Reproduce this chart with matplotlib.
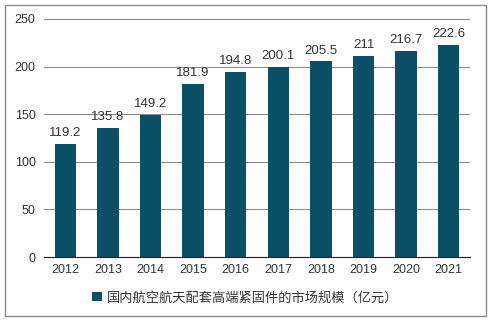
import matplotlib
matplotlib.use('Agg')
import matplotlib.pyplot as plt
from matplotlib.patches import Rectangle

plt.rcParams['font.family'] = ['Liberation Sans', 'Noto Sans CJK SC', 'DejaVu Sans']

years = ['2012', '2013', '2014', '2015', '2016', '2017', '2018', '2019', '2020', '2021']
values = [119.2, 135.8, 149.2, 181.9, 194.8, 200.1, 205.5, 211, 216.7, 222.6]
labels = ['119.2', '135.8', '149.2', '181.9', '194.8', '200.1', '205.5', '211', '216.7', '222.6']
series_name = '国内航空航天配套高端紧固件的市场规模（亿元）'
bar_color = '#0c5067'

fig = plt.figure(figsize=(4.91, 3.23), dpi=100)
ax = fig.add_axes([44 / 491, 1 - 257 / 323, 426 / 491, 238 / 323])

x = list(range(len(years)))
ax.bar(x, values, width=0.5, color=bar_color, zorder=3, label=series_name)
for xi, v, t in zip(x, values, labels):
    ax.text(xi, v + 5, t, ha='center', va='bottom', fontsize=9.5, color='#333333', zorder=4)

ax.set_xlim(-0.5, 9.5)
ax.set_ylim(0, 250)
ax.set_yticks(range(0, 251, 50))
ax.set_xticks(x)
ax.set_xticklabels(years)
ax.yaxis.grid(True, color='#8c8c8c', linewidth=0.8, zorder=0)
for s in ['top', 'right', 'left']:
    ax.spines[s].set_visible(False)
ax.spines['bottom'].set_color('#222222')
ax.tick_params(axis='y', length=0, labelsize=9, pad=6, colors='#333333')
ax.tick_params(axis='x', length=0, labelsize=9, pad=5, colors='#333333')

ax.legend(loc='center', bbox_to_anchor=(0.5, 1 - 298 / 323), bbox_transform=fig.transFigure,
          frameon=False, fontsize=9.5, handlelength=0.7, handleheight=0.7, handletextpad=0.4,
          labelcolor='#333333')

fig.patches.append(Rectangle((5 / 491, 1 - 316 / 323), 481 / 491, 311 / 323,
                             transform=fig.transFigure, fill=False,
                             edgecolor='#8c8c8c', linewidth=1))

fig.savefig('out.png', dpi=100)
